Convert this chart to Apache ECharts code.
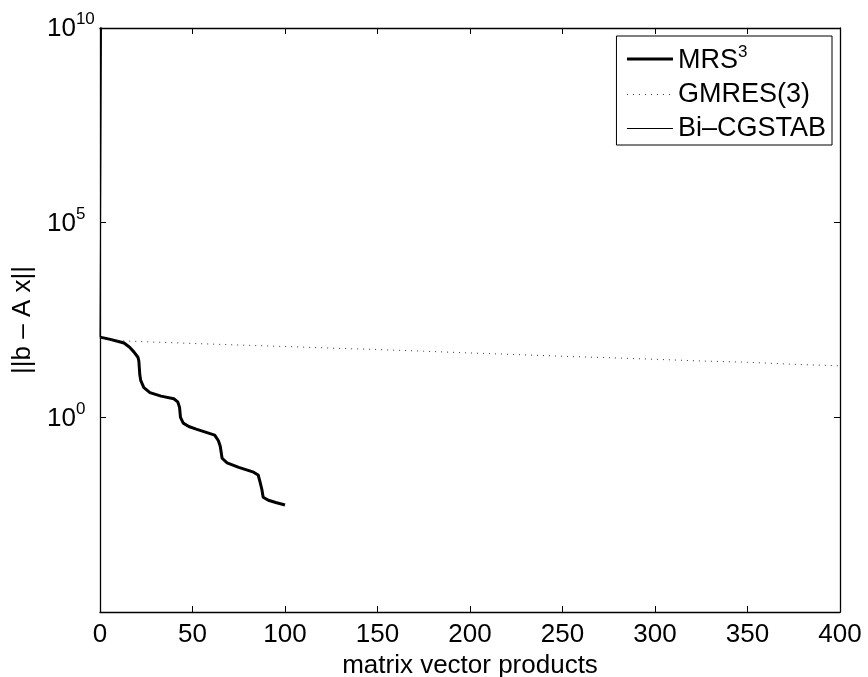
<!DOCTYPE html>
<html>
<head>
<meta charset="utf-8">
<script src="https://cdn.jsdelivr.net/npm/echarts@6/dist/echarts.min.js"></script>
<style>
html,body{margin:0;padding:0;background:#fff;}
#chart{width:868px;height:677px;}
</style>
</head>
<body>
<div id="chart"></div>
<script>
// ---- data ----
const mrsX = [0, 5, 10, 13, 16, 18.3, 20.5, 21, 21.5, 22, 23.7, 27, 33, 39.9, 42, 43, 43.5, 45, 48, 52, 62, 64, 65, 66, 68.7, 75, 83, 85.5, 86.5, 87.5, 88.2, 91, 95, 100];
const mrsY = [115, 102, 89, 81, 63, 48, 35, 28, 12.6, 8.9, 5.8, 4.3, 3.5, 3.0, 2.5, 1.8, 1.0, 0.71, 0.58, 0.50, 0.35, 0.25, 0.18, 0.089, 0.068, 0.052, 0.039, 0.033, 0.022, 0.014, 0.0089, 0.0074, 0.0065, 0.0056];
const gmresX = [0, 2, 10, 25, 50, 75, 100, 125, 150, 175, 200, 225, 250, 275, 300, 325, 350, 375, 400];
const gmresY = [115, 100, 93, 87, 79, 72, 66, 60, 55, 50, 45, 41, 37, 34, 31, 28, 26, 23, 21];
const bicgX = [0, 1];
const bicgY = [115, 1e12];
const xTickValues = [0, 50, 100, 150, 200, 250, 300, 350, 400];
const yLabelExponents = [0, 5, 10];
const seriesNames = ['MRS3', 'GMRES(3)', 'Bi\u2013CGSTAB'];

const zip = (xs, ys) => xs.map((x, i) => [x, ys[i]]);
const FONT = 'Liberation Sans';

const chart = echarts.init(document.getElementById('chart'), null, {renderer: 'canvas'});
const supRich = {
  b: {fontSize: 26, fontFamily: FONT, color: '#000', verticalAlign: 'bottom', lineHeight: 28},
  s: {fontSize: 17, fontFamily: FONT, color: '#000', verticalAlign: 'bottom', padding: [0, 0, 14, 0], lineHeight: 18}
};
const yFormatter = v => {
  const e = Math.round(Math.log10(v));
  if (yLabelExponents.indexOf(e) < 0) return '';
  return '{b|10}{s|' + e + '}';
};

chart.setOption({
  animation: false,
  backgroundColor: '#fff',
  grid: {left: 100, right: 28, top: 28, bottom: 65, containLabel: false, outerBoundsMode: 'none'},
  legend: {
    orient: 'vertical',
    right: 36, top: 36,
    data: [
      {name: seriesNames[0], lineStyle: {width: 3}},
      {name: seriesNames[1], lineStyle: {width: 1}},
      {name: seriesNames[2], lineStyle: {width: 1}}
    ],
    backgroundColor: '#fff',
    borderColor: '#000',
    borderWidth: 1,
    padding: [8, 6, 3, 9],
    itemWidth: 46, itemHeight: 14, itemGap: 7,
    itemStyle: {opacity: 0},
    formatter: n => n === 'MRS3' ? '{b|MRS}{s|3}' : '{t|' + n + '}',
    textStyle: {
      fontFamily: FONT, fontSize: 27, color: '#000', padding: [0, 0, 0, 0],
      rich: {
        t: {fontSize: 27, fontFamily: FONT, color: '#000'},
        b: {fontSize: 27, fontFamily: FONT, color: '#000', verticalAlign: 'bottom'},
        s: {fontSize: 17, fontFamily: FONT, color: '#000', verticalAlign: 'bottom', padding: [0, 0, 13, 0]}
      }
    }
  },
  xAxis: [{
    type: 'value', min: 0, max: 400, interval: 50, position: 'bottom',
    axisLine: {show: true, onZero: false, lineStyle: {color: '#000', width: 1.3}},
    axisTick: {show: true, inside: true, length: 6, lineStyle: {color: '#000'}},
    axisLabel: {fontFamily: FONT, fontSize: 26, color: '#000', margin: 10,
      formatter: v => xTickValues.indexOf(v) >= 0 ? String(v) : ''},
    splitLine: {show: false},
    name: 'matrix vector products', nameLocation: 'middle', nameGap: 35,
    nameTextStyle: {fontFamily: FONT, fontSize: 26, color: '#000'}
  }, {
    type: 'value', min: 0, max: 400, interval: 50, position: 'top',
    axisLine: {show: true, onZero: false, lineStyle: {color: '#000', width: 1.3}},
    axisTick: {show: true, inside: true, length: 6, lineStyle: {color: '#000'}},
    axisLabel: {show: false}, splitLine: {show: false}
  }],
  yAxis: [{
    type: 'log', min: 1e-5, max: 1e10, interval: 5, logBase: 10, position: 'left',
    axisLine: {show: true, onZero: false, lineStyle: {color: '#000', width: 1.3}},
    axisTick: {show: true, inside: true, length: 6, lineStyle: {color: '#000'}},
    axisLabel: {margin: 53, align: 'left', formatter: yFormatter, rich: supRich},
    minorTick: {show: false},
    splitLine: {show: false},
    name: '||b \u2013 A x||', nameLocation: 'middle', nameGap: 45, nameRotate: 90,
    nameTextStyle: {fontFamily: FONT, fontSize: 26, color: '#000'}
  }, {
    type: 'log', min: 1e-5, max: 1e10, interval: 5, logBase: 10, position: 'right',
    axisLine: {show: true, onZero: false, lineStyle: {color: '#000', width: 1.3}},
    axisTick: {show: true, inside: true, length: 6, lineStyle: {color: '#000'}},
    axisLabel: {show: false}, splitLine: {show: false}
  }],
  series: [{
    name: seriesNames[0], type: 'line', data: zip(mrsX, mrsY),
    symbol: 'none', smooth: false, clip: true,
    lineStyle: {color: '#000', width: 3}, itemStyle: {color: '#000'}
  }, {
    name: seriesNames[1], type: 'line', data: zip(gmresX, gmresY),
    symbol: 'none', clip: true,
    lineStyle: {color: '#333', width: 1, type: [1, 5]}, itemStyle: {color: '#333'}
  }, {
    name: seriesNames[2], type: 'line', data: zip(bicgX, bicgY),
    symbol: 'none', clip: true,
    lineStyle: {color: '#000', width: 1}, itemStyle: {color: '#000'}
  }]
});
</script>
</body>
</html>
